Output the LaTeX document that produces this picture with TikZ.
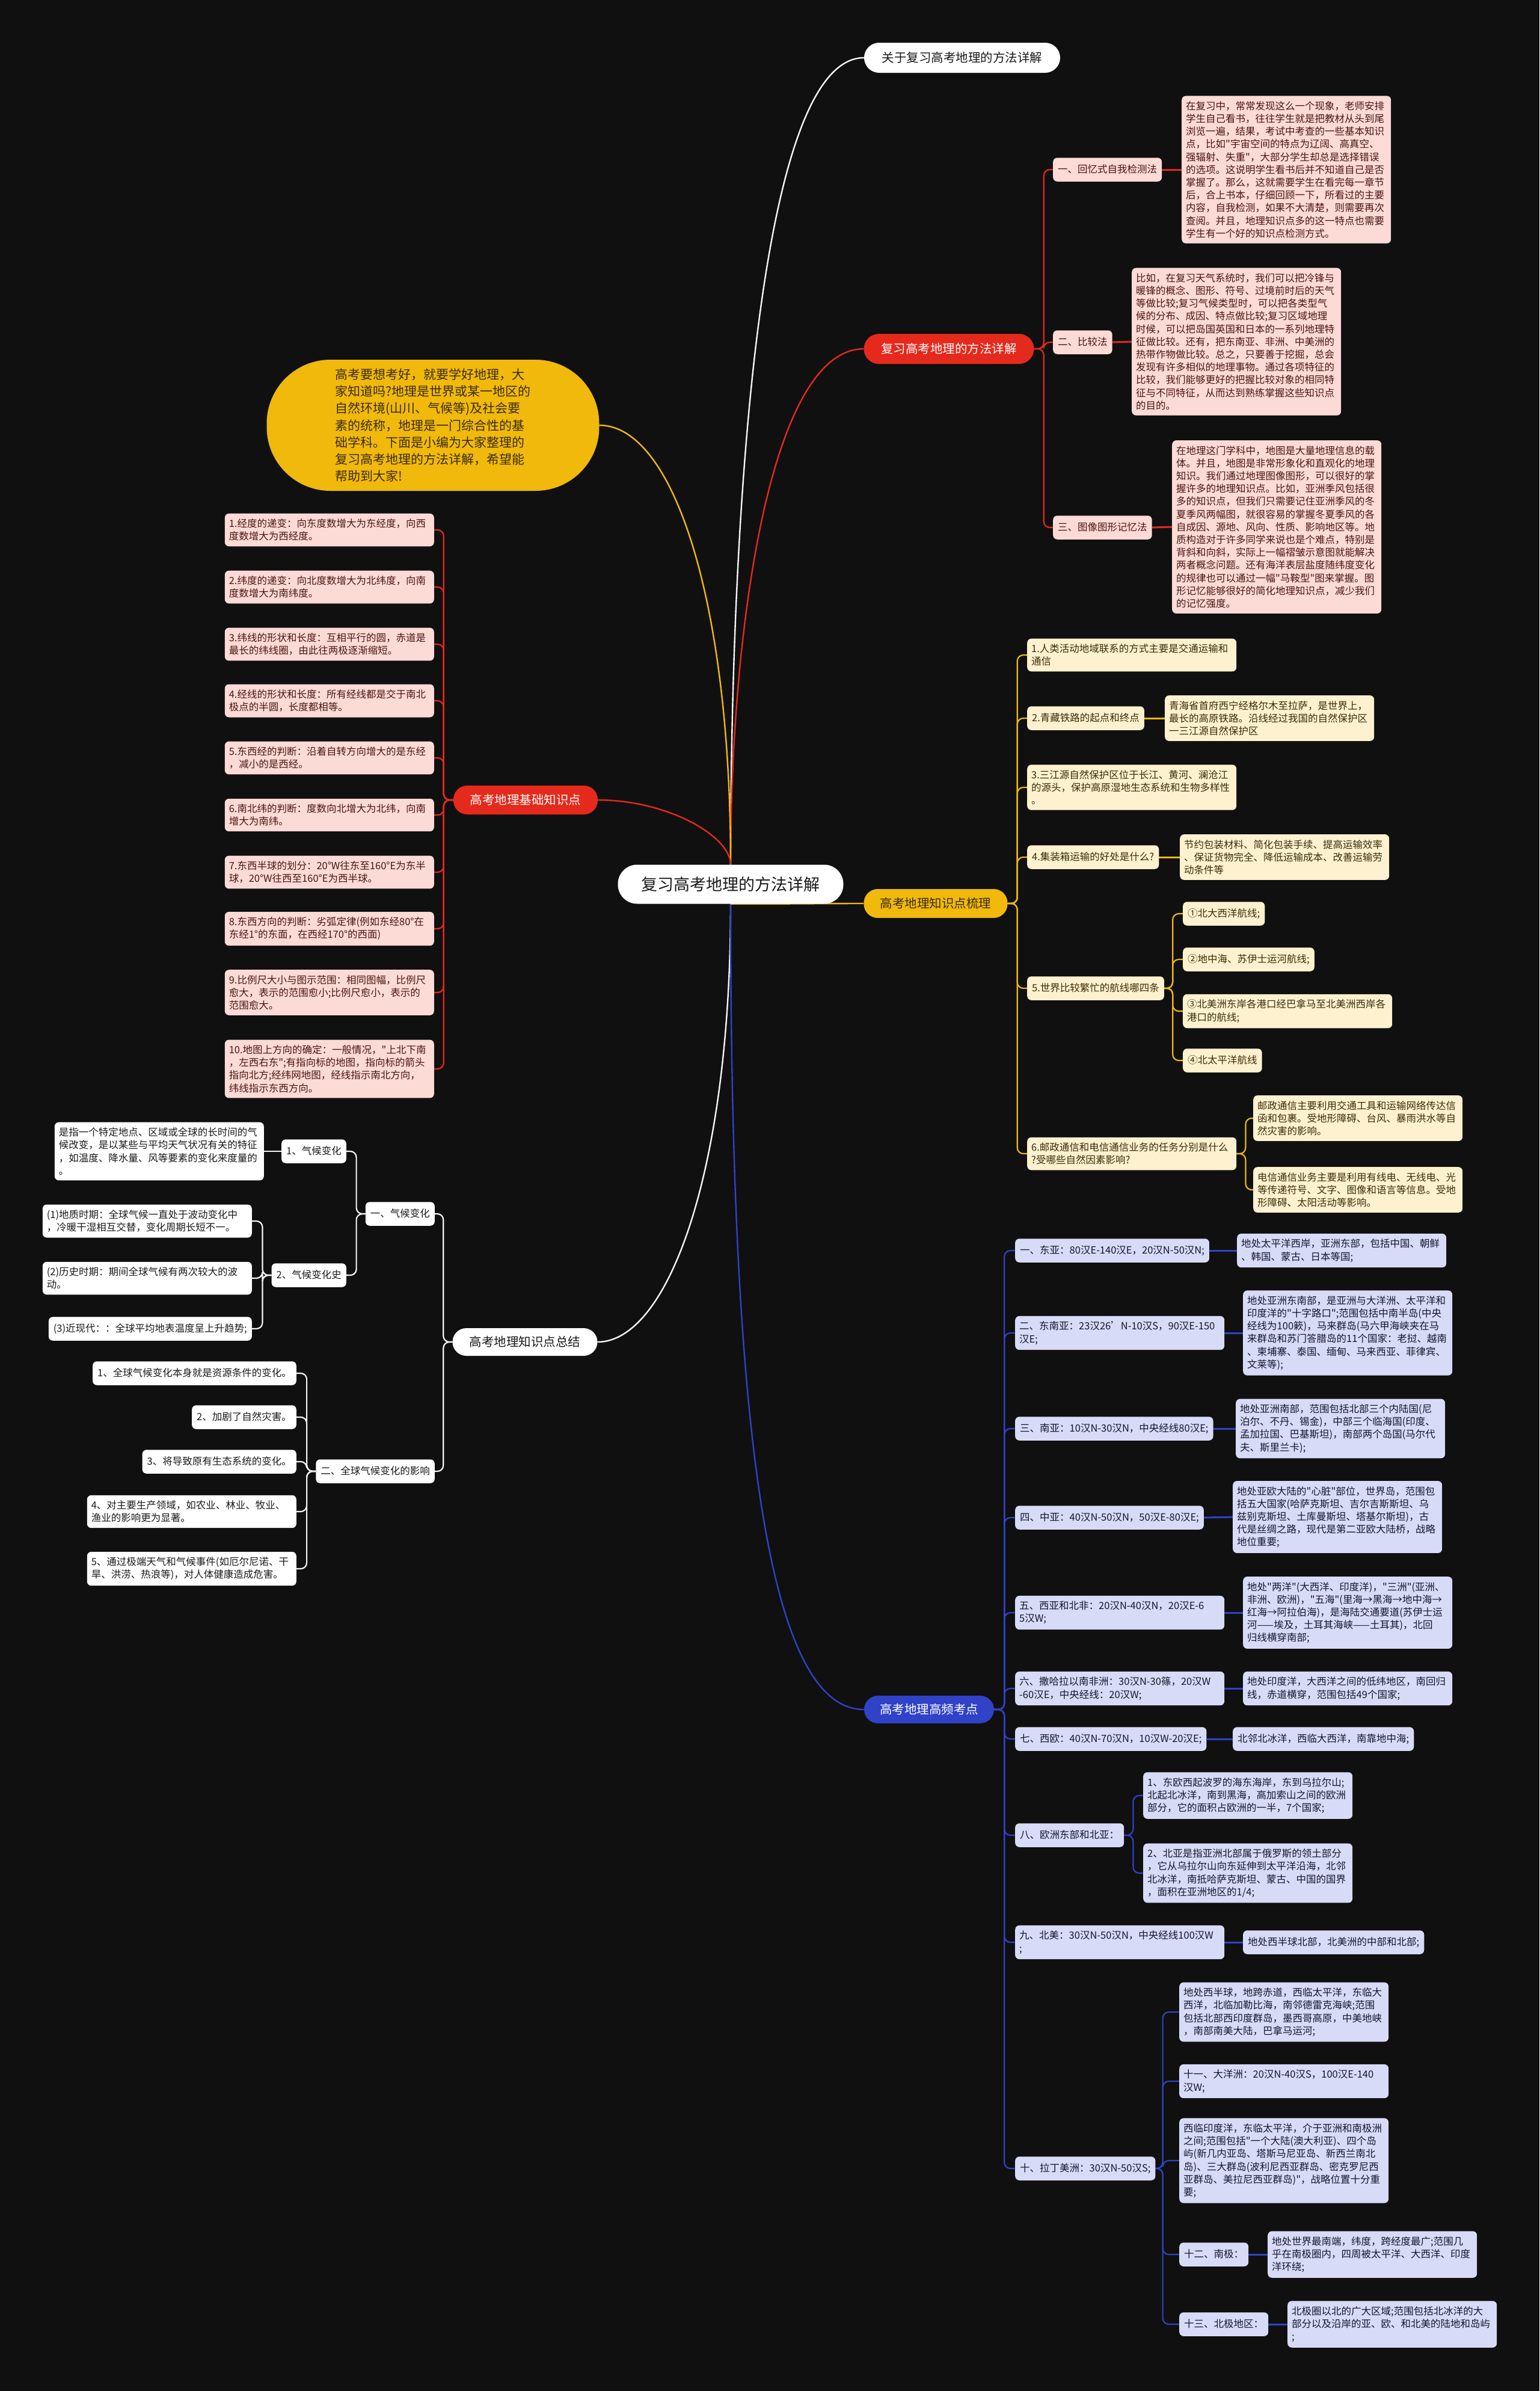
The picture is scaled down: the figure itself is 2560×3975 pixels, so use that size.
\documentclass[tikz,border=0pt]{standalone}
\usepackage{fontspec}
\newfontfamily\cjkf{Noto Sans CJK SC}
\usetikzlibrary{calc}
\exhyphenpenalty=10000 \hyphenpenalty=10000
\definecolor{bgc}{HTML}{101010}
\definecolor{redc}{HTML}{E5291C}
\definecolor{pinkc}{HTML}{FCDAD6}
\definecolor{redtxt}{HTML}{4A1510}
\definecolor{ylwc}{HTML}{F0B90B}
\definecolor{creamc}{HTML}{FDF1CF}
\definecolor{ylwtxt}{HTML}{3B2C05}
\definecolor{bluec}{HTML}{3042C8}
\definecolor{lavc}{HTML}{D8DBF7}
\definecolor{bluetxt}{HTML}{14162E}
\definecolor{whtc}{HTML}{F4F4F4}
\definecolor{blacktxt}{HTML}{1A1A1A}
\newcommand\fsA{\cjkf\fontsize{16.5pt}{21.2pt}\selectfont}
\newcommand\fsB{\cjkf\fontsize{21pt}{28.3pt}\selectfont}
\newcommand\fsT{\cjkf\fontsize{20.5pt}{24pt}\selectfont}
\newcommand\fsR{\cjkf\fontsize{27pt}{32pt}\selectfont}
\pgfdeclarelayer{back}
\pgfdeclarelayer{links}
\pgfsetlayers{back,links,main}
\tikzset{
  one/.style={rounded corners=7pt, inner xsep=8pt, inner ysep=11pt, text height=14pt, text depth=3.5pt, font=\fsA},
  para/.style={rounded corners=7pt, inner xsep=7pt, inner ysep=9pt, text width=334pt, align=left, font=\fsA},
  pill/.style={rounded corners=23pt, inner sep=0pt, font=\fsT},
  rbox/.style={fill=pinkc, text=redtxt},
  ybox/.style={fill=creamc, text=ylwtxt},
  bbox/.style={fill=lavc, text=bluetxt},
  wbox/.style={fill=white, text=blacktxt},
  tree/.style={line width=2.2pt, rounded corners=10pt},
  det/.style={line width=3pt},
  curve/.style={line width=2.4pt},
}
\begin{document}
\begin{tikzpicture}[x=1pt,y=-1pt]
\useasboundingbox (0,0) rectangle (2560,3975);
\begin{pgfonlayer}{back}
\fill[bgc] (0,0) rectangle (2560,3975);
\end{pgfonlayer}

% ---------- main nodes ----------
\node[pill, fill=white, text=blacktxt, minimum width=375pt, minimum height=65pt, rounded corners=32pt, font=\fsR] (root) at (1215,1470) {复习高考地理的方法详解};
\node[pill, fill=white, text=blacktxt, minimum width=326pt, minimum height=50pt, rounded corners=25pt] (t1) at (1600,96) {关于复习高考地理的方法详解};
\node[pill, fill=redc, text=white, minimum width=283pt, minimum height=50pt, rounded corners=25pt] (rn) at (1578,580) {复习高考地理的方法详解};
\node[pill, fill=ylwc, text=ylwtxt, minimum width=239pt, minimum height=48pt] (yn) at (1556,1502) {高考地理知识点梳理};
\node[pill, fill=bluec, text=white, minimum width=216pt, minimum height=46pt] (bn) at (1545,2842) {高考地理高频考点};
\node[pill, fill=redc, text=white, minimum width=240pt, minimum height=48pt] (ln) at (874,1330) {高考地理基础知识点};
\node[pill, fill=white, text=blacktxt, minimum width=241pt, minimum height=46pt] (wn) at (873,2231) {高考地理知识点总结};
\node[fill=ylwc, text=ylwtxt, minimum width=553pt, minimum height=218pt, rounded corners=106pt, inner sep=0pt, align=left, font=\fsB] (intro) at (720,707) {高考要想考好，就要学好地理，大\\家知道吗?地理是世界或某一地区的\\自然环境(山川、气候等)及社会要\\素的统称，地理是一门综合性的基\\础学科。下面是小编为大家整理的\\复习高考地理的方法详解，希望能\\帮助到大家!};

% ---------- red right ----------
\node[one, rbox, anchor=west] (r1) at (1751,282) {一、回忆式自我检测法};
\node[para, rbox, anchor=west] (r1d) at (1965,282) {在复习中，常常发现这么一个现象，老师安排\\学生自己看书，往往学生就是把教材从头到尾\\浏览一遍，结果，考试中考查的一些基本知识\\点，比如"宇宙空间的特点为辽阔、高真空、\\强辐射、失重"，大部分学生却总是选择错误\\的选项。这说明学生看书后并不知道自己是否\\掌握了。那么，这就需要学生在看完每一章节\\后，合上书本，仔细回顾一下，所看过的主要\\内容，自我检测，如果不大清楚，则需要再次\\查阅。并且，地理知识点多的这一特点也需要\\学生有一个好的知识点检测方式。};
\node[one, rbox, anchor=west] (r2) at (1751,569) {二、比较法};
\node[para, rbox, anchor=west] (r2d) at (1882,568) {比如，在复习天气系统时，我们可以把冷锋与\\暖锋的概念、图形、符号、过境前时后的天气\\等做比较;复习气候类型时，可以把各类型气\\候的分布、成因、特点做比较;复习区域地理\\时候，可以把岛国英国和日本的一系列地理特\\征做比较。还有，把东南亚、非洲、中美洲的\\热带作物做比较。总之，只要善于挖掘，总会\\发现有许多相似的地理事物。通过各项特征的\\比较，我们能够更好的把握比较对象的相同特\\征与不同特征，从而达到熟练掌握这些知识点\\的目的。};
\node[one, rbox, anchor=west] (r3) at (1751,877) {三、图像图形记忆法};
\node[para, rbox, anchor=west] (r3d) at (1949,876) {在地理这门学科中，地图是大量地理信息的载\\体。并且，地图是非常形象化和直观化的地理\\知识。我们通过地理图像图形，可以很好的掌\\握许多的地理知识点。比如，亚洲季风包括很\\多的知识点，但我们只需要记住亚洲季风的冬\\夏季风两幅图，就很容易的掌握冬夏季风的各\\自成因、源地、风向、性质、影响地区等。地\\质构造对于许多同学来说也是个难点，特别是\\背斜和向斜，实际上一幅褶皱示意图就能解决\\两者概念问题。还有海洋表层盐度随纬度变化\\的规律也可以通过一幅"马鞍型"图来掌握。图\\形记忆能够很好的简化地理知识点，减少我们\\的记忆强度。};

% ---------- red left ----------
\node[para, rbox, anchor=east] (l1) at (722,881) {1.经度的递变：向东度数增大为东经度，向西\\度数增大为西经度。};
\node[para, rbox, anchor=east] (l2) at (722,976) {2.纬度的递变：向北度数增大为北纬度，向南\\度数增大为南纬度。};
\node[para, rbox, anchor=east] (l3) at (722,1071) {3.纬线的形状和长度：互相平行的圆，赤道是\\最长的纬线圈，由此往两极逐渐缩短。};
\node[para, rbox, anchor=east] (l4) at (722,1165) {4.经线的形状和长度：所有经线都是交于南北\\极点的半圆，长度都相等。};
\node[para, rbox, anchor=east] (l5) at (722,1260) {5.东西经的判断：沿着自转方向增大的是东经\\，减小的是西经。};
\node[para, rbox, anchor=east] (l6) at (722,1355) {6.南北纬的判断：度数向北增大为北纬，向南\\增大为南纬。};
\node[para, rbox, anchor=east] (l7) at (722,1450) {7.东西半球的划分：20°W往东至160°E为东半\\球，20°W往西至160°E为西半球。};
\node[para, rbox, anchor=east] (l8) at (722,1544) {8.东西方向的判断：劣弧定律(例如东经80°在\\东经1°的东面，在西经170°的西面)};
\node[para, rbox, anchor=east] (l9) at (722,1650) {9.比例尺大小与图示范围：相同图幅，比例尺\\愈大，表示的范围愈小;比例尺愈小，表示的\\范围愈大。};
\node[para, rbox, anchor=east] (l10) at (722,1777) {10.地图上方向的确定：一般情况，"上北下南\\，左西右东";有指向标的地图，指向标的箭头\\指向北方;经纬网地图，经线指示南北方向，\\纬线指示东西方向。};

% ---------- yellow ----------
\node[para, ybox, anchor=west] (y1) at (1708,1089) {1.人类活动地域联系的方式主要是交通运输和\\通信};
\node[one, ybox, anchor=west] (y2) at (1708,1194) {2.青藏铁路的起点和终点};
\node[para, ybox, anchor=west] (y2d) at (1937,1194) {青海省首府西宁经格尔木至拉萨，是世界上，\\最长的高原铁路。沿线经过我国的自然保护区\\一三江源自然保护区};
\node[para, ybox, anchor=west] (y3) at (1708,1309) {3.三江源自然保护区位于长江、黄河、澜沧江\\的源头，保护高原湿地生态系统和生物多样性\\。};
\node[one, ybox, anchor=west] (y4) at (1708,1425) {4.集装箱运输的好处是什么?};
\node[para, ybox, anchor=west] (y4d) at (1962,1425) {节约包装材料、简化包装手续、提高运输效率\\、保证货物完全、降低运输成本、改善运输劳\\动条件等};
\node[one, ybox, anchor=west] (y5) at (1708,1643) {5.世界比较繁忙的航线哪四条};
\node[one, ybox, anchor=west] (y5a) at (1967,1519) {①北大西洋航线;};
\node[one, ybox, anchor=west] (y5b) at (1967,1595) {②地中海、苏伊士运河航线;};
\node[para, ybox, anchor=west] (y5c) at (1967,1681) {③北美洲东岸各港口经巴拿马至北美洲西岸各\\港口的航线;};
\node[one, ybox, anchor=west] (y5d) at (1967,1763) {④北太平洋航线};
\node[para, ybox, anchor=west] (y6) at (1708,1918) {6.邮政通信和电信通信业务的任务分别是什么\\?受哪些自然因素影响?};
\node[para, ybox, anchor=west] (y6a) at (2084,1859) {邮政通信主要利用交通工具和运输网络传达信\\函和包裹。受地形障碍、台风、暴雨洪水等自\\然灾害的影响。};
\node[para, ybox, anchor=west] (y6b) at (2084,1978) {电信通信业务主要是利用有线电、无线电、光\\等传递符号、文字、图像和语言等信息。受地\\形障碍、太阳活动等影响。};

% ---------- white left ----------
\node[one, wbox, anchor=east] (w1) at (723,2018) {一、气候变化};
\node[one, wbox, anchor=east] (w2) at (723,2446) {二、全球气候变化的影响};
\node[one, wbox, anchor=east] (w11) at (576,1914) {1、气候变化};
\node[para, wbox, anchor=east] (wdef) at (439,1914) {是指一个特定地点、区域或全球的长时间的气\\候改变，是以某些与平均天气状况有关的特征\\，如温度、降水量、风等要素的变化来度量的\\。};
\node[one, wbox, anchor=east] (w12) at (576,2120) {2、气候变化史};
\node[para, wbox, anchor=east] (wa) at (419,2030) {(1)地质时期：全球气候一直处于波动变化中\\，冷暖干湿相互交替，变化周期长短不一。};
\node[para, wbox, anchor=east] (wb) at (419,2125) {(2)历史时期：期间全球气候有两次较大的波\\动。};
\node[one, wbox, anchor=east] (wc) at (419,2209) {(3)近现代：：全球平均地表温度呈上升趋势;};
\node[one, wbox, anchor=east] (wi1) at (493,2283) {1、全球气候变化本身就是资源条件的变化。};
\node[one, wbox, anchor=east] (wi2) at (493,2356) {2、加剧了自然灾害。};
\node[one, wbox, anchor=east] (wi3) at (493,2430) {3、将导致原有生态系统的变化。};
\node[para, wbox, anchor=east] (wi4) at (493,2513) {4、对主要生产领域，如农业、林业、牧业、\\渔业的影响更为显著。};
\node[para, wbox, anchor=east] (wi5) at (493,2608) {5、通过极端天气和气候事件(如厄尔尼诺、干\\旱、洪涝、热浪等)，对人体健康造成危害。};

% ---------- blue ----------
\node[one, bbox, anchor=west] (b1) at (1688,2079) {一、东亚：80汉E-140汉E，20汉N-50汉N;};
\node[para, bbox, anchor=west] (b1d) at (2057,2079) {地处太平洋西岸，亚洲东部，包括中国、朝鲜\\、韩国、蒙古、日本等国;};
\node[para, bbox, anchor=west] (b2) at (1688,2216) {二、东南亚：23汉26’N-10汉S，90汉E-150\\汉E;};
\node[para, bbox, anchor=west] (b2d) at (2067,2216) {地处亚洲东南部，是亚洲与大洋洲、太平洋和\\印度洋的"十字路口";范围包括中南半岛(中央\\经线为100簌)，马来群岛(马六甲海峡夹在马\\来群岛和苏门答腊岛的11个国家：老挝、越南\\、柬埔寨、泰国、缅甸、马来西亚、菲律宾、\\文莱等);};
\node[one, bbox, anchor=west] (b3) at (1688,2375) {三、南亚：10汉N-30汉N，中央经线80汉E;};
\node[para, bbox, anchor=west] (b3d) at (2055,2375) {地处亚洲南部，范围包括北部三个内陆国(尼\\泊尔、不丹、锡金)，中部三个临海国(印度、\\孟加拉国、巴基斯坦)，南部两个岛国(马尔代\\夫、斯里兰卡);};
\node[one, bbox, anchor=west] (b4) at (1688,2523) {四、中亚：40汉N-50汉N，50汉E-80汉E;};
\node[para, bbox, anchor=west] (b4d) at (2050,2522) {地处亚欧大陆的"心脏"部位，世界岛，范围包\\括五大国家(哈萨克斯坦、吉尔吉斯斯坦、乌\\兹别克斯坦、土库曼斯坦、塔基尔斯坦)，古\\代是丝绸之路，现代是第二亚欧大陆桥，战略\\地位重要;};
\node[para, bbox, anchor=west] (b5) at (1688,2681) {五、西亚和北非：20汉N-40汉N，20汉E-6\\5汉W;};
\node[para, bbox, anchor=west] (b5d) at (2067,2681) {地处"两洋"(大西洋、印度洋)，"三洲"(亚洲、\\非洲、欧洲)，"五海"(里海→黑海→地中海→\\红海→阿拉伯海)，是海陆交通要道(苏伊士运\\河——埃及，土耳其海峡——土耳其)，北回\\归线横穿南部;};
\node[para, bbox, anchor=west] (b6) at (1688,2807) {六、撒哈拉以南非洲：30汉N-30篠，20汉W\\-60汉E，中央经线：20汉W;};
\node[para, bbox, anchor=west] (b6d) at (2067,2807) {地处印度洋，大西洋之间的低纬地区，南回归\\线，赤道横穿，范围包括49个国家;};
\node[one, bbox, anchor=west] (b7) at (1688,2891) {七、西欧：40汉N-70汉N，10汉W-20汉E;};
\node[one, bbox, anchor=west] (b7d) at (2050,2891) {北邻北冰洋，西临大西洋，南靠地中海;};
\node[one, bbox, anchor=west] (b8) at (1688,3051) {八、欧洲东部和北亚：};
\node[para, bbox, anchor=west] (b8a) at (1901,2985) {1、东欧西起波罗的海东海岸，东到乌拉尔山;\\北起北冰洋，南到黑海，高加索山之间的欧洲\\部分，它的面积占欧洲的一半，7个国家;};
\node[para, bbox, anchor=west] (b8b) at (1901,3114) {2、北亚是指亚洲北部属于俄罗斯的领土部分\\，它从乌拉尔山向东延伸到太平洋沿海，北邻\\北冰洋，南抵哈萨克斯坦、蒙古、中国的国界\\，面积在亚洲地区的1/4;};
\node[para, bbox, anchor=west] (b9) at (1688,3229) {九、北美：30汉N-50汉N，中央经线100汉W\\;};
\node[one, bbox, anchor=west] (b9d) at (2067,3229) {地处西半球北部，北美洲的中部和北部;};
\node[one, bbox, anchor=west] (b10) at (1688,3605) {十、拉丁美洲：30汉N-50汉S;};
\node[para, bbox, anchor=west] (b10a) at (1961,3345) {地处西半球，地跨赤道，西临太平洋，东临大\\西洋，北临加勒比海，南邻德雷克海峡;范围\\包括北部西印度群岛，墨西哥高原，中美地峡\\，南部南美大陆，巴拿马运河;};
\node[para, bbox, anchor=west] (b10b) at (1961,3460) {十一、大洋洲：20汉N-40汉S，100汉E-140\\汉W;};
\node[para, bbox, anchor=west] (b10c) at (1961,3592) {西临印度洋，东临太平洋，介于亚洲和南极洲\\之间;范围包括"一个大陆(澳大利亚)、四个岛\\屿(新几内亚岛、塔斯马尼亚岛、新西兰南北\\岛)、三大群岛(波利尼西亚群岛、密克罗尼西\\亚群岛、美拉尼西亚群岛)"，战略位置十分重\\要;};
\node[one, bbox, anchor=west] (b12) at (1961,3748) {十二、南极：};
\node[para, bbox, anchor=west] (b12d) at (2108,3748) {地处世界最南端，纬度，跨经度最广;范围几\\乎在南极圈内，四周被太平洋、大西洋、印度\\洋环绕;};
\node[one, bbox, anchor=west] (b13) at (1961,3864) {十三、北极地区：};
\node[para, bbox, anchor=west] (b13d) at (2141,3864) {北极圈以北的广大区域;范围包括北冰洋的大\\部分以及沿岸的亚、欧、和北美的陆地和岛屿\\;};

% ---------- connectors ----------
\begin{pgfonlayer}{links}
\draw[curve, whtc] (root.north) .. controls (1215,950) and (1250,96) .. (t1.west);
\draw[curve, redc] (root.north) .. controls (1215,1050) and (1280,580) .. (rn.west);
\draw[curve, ylwc] (root.north) .. controls (1215,1000) and (1120,707) .. (intro.east);
\draw[curve, redc] (root.north) .. controls (1215,1390) and (1110,1330) .. (ln.east);
\draw[curve, whtc] (root.south) .. controls (1215,1950) and (1110,2231) .. (wn.east);
\draw[curve, bluec] (root.south) .. controls (1215,2400) and (1280,2842) .. (bn.west);
\draw[curve, ylwc] (root.south) .. controls (1300,1503) and (1350,1502) .. (yn.west);

\foreach \c in {r1,r2,r3} \draw[tree, redc] (rn.east) -- ++(16,0) |- (\c.west);
\draw[det, redc] (r1.east) -- (r1d.west);
\draw[det, redc] (r2.east) -- (r2d.west);
\draw[det, redc] (r3.east) -- (r3d.west);

\foreach \c in {l1,l2,l3,l4,l5,l6,l7,l8,l9,l10} \draw[tree, redc] (ln.west) -- ++(-16,0) |- (\c.east);

\foreach \c in {y1,y2,y3,y4,y5,y6} \draw[tree, ylwc] (yn.east) -- ++(16,0) |- (\c.west);
\draw[det, ylwc] (y2.east) -- (y2d.west);
\draw[det, ylwc] (y4.east) -- (y4d.west);
\foreach \c in {y5a,y5b,y5c,y5d} \draw[tree, ylwc] (y5.east) -- ++(14,0) |- (\c.west);
\foreach \c in {y6a,y6b} \draw[tree, ylwc] (y6.east) -- ++(15,0) |- (\c.west);

\foreach \c in {w1,w2} \draw[tree, whtc] (wn.west) -- ++(-15,0) |- (\c.east);
\foreach \c in {w11,w12} \draw[tree, whtc] (w1.west) -- ++(-15,0) |- (\c.east);
\draw[tree, whtc] (w11.west) -- (wdef.east);
\foreach \c in {wa,wb,wc} \draw[tree, whtc] (w12.west) -- ++(-15,0) |- (\c.east);
\foreach \c in {wi1,wi2,wi3,wi4,wi5} \draw[tree, whtc] (w2.west) -- ++(-15,0) |- (\c.east);

\foreach \c in {b1,b2,b3,b4,b5,b6,b7,b8,b9,b10} \draw[tree, bluec] (bn.east) -- ++(17,0) |- (\c.west);
\draw[det, bluec] (b1.east) -- (b1d.west);
\draw[det, bluec] (b2.east) -- (b2d.west);
\draw[det, bluec] (b3.east) -- (b3d.west);
\draw[det, bluec] (b4.east) -- (b4d.west);
\draw[det, bluec] (b5.east) -- (b5d.west);
\draw[det, bluec] (b6.east) -- (b6d.west);
\draw[det, bluec] (b7.east) -- (b7d.west);
\foreach \c in {b8a,b8b} \draw[tree, bluec] (b8.east) -- ++(15,0) |- (\c.west);
\draw[det, bluec] (b9.east) -- (b9d.west);
\foreach \c in {b10a,b10b,b10c,b12,b13} \draw[tree, bluec] (b10.east) -- ++(12,0) |- (\c.west);
\draw[det, bluec] (b12.east) -- (b12d.west);
\draw[det, bluec] (b13.east) -- (b13d.west);
\end{pgfonlayer}
\end{tikzpicture}
\end{document}
